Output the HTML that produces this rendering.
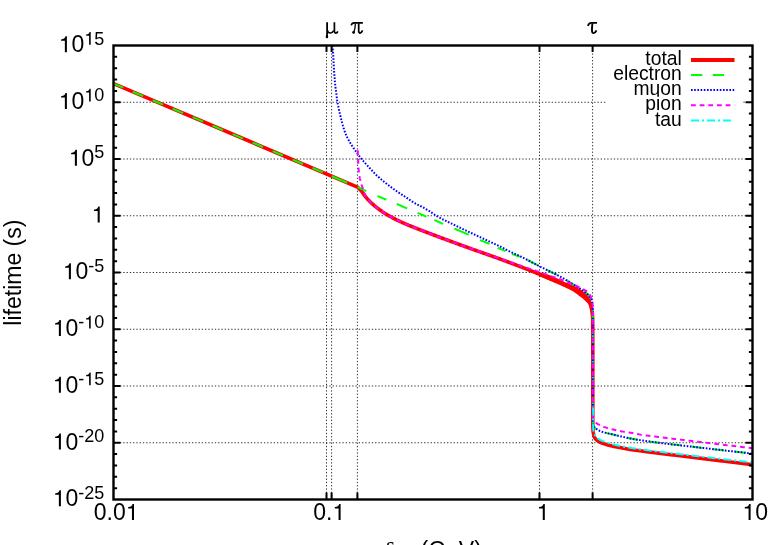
<!DOCTYPE html>
<html><head><meta charset="utf-8"><title>lifetime</title>
<style>html,body{margin:0;padding:0;background:#fff;}body{width:778px;height:545px;overflow:hidden;font-family:"Liberation Sans",sans-serif;}svg{display:block;will-change:transform;}</style></head>
<body>
<svg width="778" height="545" viewBox="0 0 778 545">
<rect width="778" height="545" fill="#fff"/>
<g stroke="#000" stroke-width="1" stroke-dasharray="1.3 1.97" fill="none" stroke-opacity="0.82">
<path d="M113.5 102.25 H607 M743.4 102.25 h1.3"/>
<path d="M113.5 159 H752.5"/>
<path d="M113.5 215.75 H752.5"/>
<path d="M113.5 272.5 H752.5"/>
<path d="M113.5 329.25 H752.5"/>
<path d="M113.5 386 H752.5"/>
<path d="M113.5 442.75 H752.5"/>
<path d="M326.5 499.5 V45.5"/>
<path d="M331.6 499.5 V45.5"/>
<path d="M357.4 499.5 V45.5"/>
<path d="M539.5 499.5 V45.5"/>
<path d="M592.6 499.5 V45.5"/>
</g>
<g fill="none" stroke-linejoin="round">
<path d="M113.5 83.6 L357.5 187.1 L358.3 187.83 L359.1 188.6 L359.9 189.4 L360.7 190.23 L361.51 191.15 L362.31 192.21 L363.11 193.37 L363.91 194.56 L364.71 195.7 L365.51 196.74 L366.31 197.69 L367.11 198.6 L367.91 199.48 L368.72 200.32 L369.52 201.14 L370.32 201.93 L371.12 202.7 L371.92 203.45 L372.72 204.18 L373.52 204.89 L374.32 205.59 L375.12 206.26 L375.93 206.92 L376.73 207.57 L377.53 208.19 L378.33 208.8 L379.13 209.4 L379.93 209.98 L380.73 210.55 L381.53 211.1 L382.33 211.65 L383.14 212.18 L383.94 212.7 L384.74 213.21 L385.54 213.72 L386.34 214.21 L387.14 214.69 L387.94 215.17 L388.74 215.64 L389.54 216.1 L390.35 216.55 L391.15 216.99 L391.95 217.43 L392.75 217.86 L393.55 218.29 L394.35 218.71 L395.15 219.12 L395.95 219.53 L396.76 219.93 L397.56 220.32 L398.36 220.71 L399.16 221.09 L399.96 221.46 L400.76 221.83 L401.56 222.19 L402.36 222.55 L403.16 222.91 L403.97 223.26 L404.77 223.61 L405.57 223.96 L406.37 224.3 L407.17 224.64 L407.97 224.98 L408.77 225.31 L409.57 225.64 L410.37 225.96 L411.18 226.28 L411.98 226.6 L412.78 226.92 L413.58 227.23 L414.38 227.55 L415.18 227.86 L415.98 228.18 L416.78 228.49 L417.58 228.81 L418.39 229.12 L419.19 229.44 L419.99 229.75 L420.79 230.06 L421.59 230.37 L422.39 230.68 L423.19 230.99 L423.99 231.29 L424.79 231.6 L425.6 231.91 L426.4 232.21 L427.2 232.52 L428 232.82 L428.8 233.13 L429.6 233.43 L430.4 233.73 L431.2 234.04 L432 234.34 L432.81 234.64 L433.61 234.94 L434.41 235.24 L435.21 235.54 L436.01 235.84 L436.81 236.14 L437.61 236.44 L438.41 236.74 L439.21 237.04 L440.02 237.34 L440.82 237.64 L441.62 237.94 L442.42 238.23 L443.22 238.53 L444.02 238.83 L444.82 239.12 L445.62 239.42 L446.42 239.72 L447.23 240.02 L448.03 240.31 L448.83 240.61 L449.63 240.9 L450.43 241.2 L451.23 241.49 L452.03 241.79 L452.83 242.09 L453.63 242.38 L454.44 242.68 L455.24 242.97 L456.04 243.26 L456.84 243.56 L457.64 243.85 L458.44 244.14 L459.24 244.44 L460.04 244.73 L460.84 245.02 L461.65 245.32 L462.45 245.61 L463.25 245.9 L464.05 246.19 L464.85 246.48 L465.65 246.77 L466.45 247.06 L467.25 247.35 L468.06 247.64 L468.86 247.93 L469.66 248.22 L470.46 248.51 L471.26 248.8 L472.06 249.09 L472.86 249.37 L473.66 249.66 L474.46 249.95 L475.27 250.23 L476.07 250.51 L476.87 250.8 L477.67 251.08 L478.47 251.36 L479.27 251.64 L480.07 251.92 L480.87 252.2 L481.67 252.49 L482.48 252.77 L483.28 253.05 L484.08 253.33 L484.88 253.61 L485.68 253.89 L486.48 254.17 L487.28 254.45 L488.08 254.73 L488.88 255.01 L489.69 255.3 L490.49 255.58 L491.29 255.86 L492.09 256.15 L492.89 256.43 L493.69 256.72 L494.49 257.01 L495.29 257.3 L496.09 257.59 L496.9 257.88 L497.7 258.17 L498.5 258.46 L499.3 258.75 L500.1 259.04 L500.9 259.34 L501.7 259.63 L502.5 259.92 L503.3 260.22 L504.11 260.51 L504.91 260.81 L505.71 261.11 L506.51 261.4 L507.31 261.7 L508.11 262 L508.91 262.3 L509.71 262.6 L510.51 262.9 L511.32 263.2 L512.12 263.5 L512.92 263.8 L513.72 264.1 L514.52 264.41 L515.32 264.71 L516.12 265.01 L516.92 265.32 L517.72 265.63 L518.53 265.93 L519.33 266.24 L520.13 266.55 L520.93 266.86 L521.73 267.17 L522.53 267.48 L523.33 267.79 L524.13 268.11 L524.93 268.42 L525.74 268.73 L526.54 269.05 L527.34 269.37 L528.14 269.68 L528.94 270 L529.74 270.32 L530.54 270.64 L531.34 270.96 L532.14 271.28 L532.95 271.6 L533.75 271.92 L534.55 272.25 L535.35 272.57 L536.15 272.89 L536.95 273.22 L537.75 273.55 L538.55 273.87 L539.36 274.2 L540.16 274.53 L540.96 274.86 L541.76 275.19 L542.56 275.52 L543.36 275.85 L544.16 276.18 L544.96 276.51 L545.76 276.84 L546.57 277.18 L547.37 277.51 L548.17 277.84 L548.97 278.18 L549.77 278.52 L550.57 278.85 L551.37 279.19 L552.17 279.53 L552.97 279.87 L553.78 280.21 L554.58 280.55 L555.38 280.9 L556.18 281.24 L556.98 281.58 L557.78 281.93 L558.58 282.27 L559.38 282.62 L560.18 282.97 L560.99 283.32 L561.79 283.67 L562.59 284.02 L563.39 284.38 L564.19 284.73 L564.99 285.09 L565.79 285.45 L566.59 285.81 L567.39 286.17 L568.2 286.54 L569 286.9 L569.8 287.27 L570.6 287.63 L571.4 288 L572.61 288.6 L573.8 289.2 L574.94 289.81 L576.04 290.41 L577.09 291.01 L578.09 291.61 L579.03 292.21 L579.94 292.82 L580.84 293.42 L581.71 294.02 L582.55 294.62 L583.35 295.22 L584.11 295.83 L584.82 296.43 L585.48 297.03 L586.08 297.63 L586.64 298.23 L587.18 298.84 L587.7 299.44 L588.19 300.04 L588.63 300.64 L589.03 301.24 L589.39 301.84 L589.68 302.45 L589.92 303.05 L590.15 303.65 L590.35 304.25 L590.54 304.85 L590.72 305.46 L590.88 306.06 L591.02 306.66 L591.16 307.26 L591.3 307.86 L591.42 308.47 L591.55 309.07 L591.67 309.67 L591.79 310.27 L591.9 310.87 L592.01 311.48 L592.11 312.08 L592.2 312.68 L592.27 313.28 L592.34 313.88 L592.4 314.49 L592.45 315.09 L592.49 315.69 L592.54 316.29 L592.58 316.89 L592.62 317.5 L592.65 318.1 L592.67 318.7 L592.69 319.3 L592.7 319.9 L592.7 320.51 L592.71 321.11 L592.71 321.71 L592.71 322.31 L592.72 322.91 L592.72 323.51 L592.72 324.12 L592.73 324.72 L592.73 325.32 L592.73 325.92 L592.74 326.52 L592.74 327.13 L592.74 327.73 L592.74 328.33 L592.75 328.93 L592.75 329.53 L592.75 330.14 L592.75 330.74 L592.76 331.34 L592.76 331.94 L592.76 332.54 L592.76 333.15 L592.76 333.75 L592.77 334.35 L592.77 334.95 L592.77 335.55 L592.77 336.16 L592.77 336.76 L592.77 337.36 L592.78 337.96 L592.78 338.56 L592.78 339.17 L592.78 339.77 L592.78 340.37 L592.78 340.97 L592.78 341.57 L592.79 342.18 L592.79 342.78 L592.79 343.38 L592.79 343.98 L592.79 344.58 L592.79 345.18 L592.79 345.79 L592.79 346.39 L592.79 346.99 L592.79 347.59 L592.79 348.19 L592.79 348.8 L592.8 349.4 L592.8 350 L592.8 350.6 L592.8 351.2 L592.8 351.81 L592.8 352.41 L592.8 353.01 L592.8 353.61 L592.8 354.21 L592.8 354.82 L592.8 355.42 L592.8 356.02 L592.8 356.62 L592.8 357.22 L592.8 357.83 L592.8 358.43 L592.8 359.03 L592.8 359.63 L592.8 360.23 L592.8 360.84 L592.8 361.44 L592.8 362.04 L592.8 362.64 L592.8 363.24 L592.8 363.85 L592.8 364.45 L592.8 365.05 L592.8 365.65 L592.8 366.25 L592.8 366.85 L592.8 367.46 L592.8 368.06 L592.8 368.66 L592.8 369.26 L592.8 369.86 L592.8 370.47 L592.8 371.07 L592.8 371.67 L592.8 372.27 L592.8 372.87 L592.8 373.48 L592.8 374.08 L592.8 374.68 L592.8 375.28 L592.8 375.88 L592.8 376.49 L592.8 377.09 L592.8 377.69 L592.8 378.29 L592.8 378.89 L592.8 379.5 L592.8 380.1 L592.8 380.7 L592.8 381.3 L592.8 381.9 L592.8 382.51 L592.8 383.11 L592.8 383.71 L592.8 384.31 L592.8 384.91 L592.8 385.52 L592.8 386.12 L592.8 386.72 L592.8 387.32 L592.8 387.92 L592.8 388.52 L592.8 389.13 L592.8 389.73 L592.8 390.33 L592.8 390.93 L592.8 391.53 L592.8 392.14 L592.8 392.74 L592.8 393.34 L592.8 393.94 L592.8 394.54 L592.8 395.15 L592.8 395.75 L592.8 396.35 L592.8 396.95 L592.8 397.55 L592.8 398.16 L592.8 398.76 L592.8 399.36 L592.8 399.96 L592.8 400.56 L592.8 401.17 L592.8 401.77 L592.8 402.37 L592.8 402.97 L592.8 403.57 L592.8 404.18 L592.8 404.78 L592.8 405.38 L592.8 405.98 L592.8 406.58 L592.8 407.19 L592.8 407.79 L592.8 408.39 L592.8 408.99 L592.8 409.59 L592.8 410.19 L592.8 410.8 L592.8 411.4 L592.8 412 L592.8 412.6 L592.8 413.2 L592.8 413.81 L592.8 414.41 L592.8 415.01 L592.8 415.61 L592.8 416.21 L592.8 416.82 L592.8 417.42 L592.8 418.02 L592.8 418.62 L592.8 419.22 L592.8 419.83 L592.8 420.43 L592.8 421.03 L592.8 421.63 L592.8 422.23 L592.8 422.84 L592.8 423.44 L592.8 424.04 L592.8 424.64 L592.81 425.24 L592.82 425.85 L592.84 426.45 L592.86 427.05 L592.88 427.65 L592.91 428.25 L592.94 428.86 L592.97 429.46 L593 430.06 L593.05 430.66 L593.11 431.26 L593.19 431.86 L593.28 432.47 L593.39 433.07 L593.5 433.67 L593.63 434.27 L593.76 434.87 L593.93 435.48 L594.12 436.08 L594.35 436.68 L594.62 437.28 L594.92 437.88 L595.27 438.49 L595.69 439.09 L596.3 439.69 L597.04 440.29 L597.85 440.89 L598.76 441.5 L599.82 442.1 L601 442.7 L602 443.06 L603.01 443.41 L604.01 443.75 L605.01 444.08 L606.02 444.4 L607.02 444.7 L608.02 444.99 L609.03 445.27 L610.03 445.54 L611.03 445.78 L612.04 446.02 L613.04 446.23 L614.04 446.44 L615.05 446.64 L616.05 446.83 L617.05 447.01 L618.06 447.19 L619.06 447.37 L620.06 447.55 L621.07 447.74 L622.07 447.93 L623.07 448.12 L624.08 448.32 L625.08 448.51 L626.08 448.71 L627.09 448.9 L628.09 449.09 L629.09 449.27 L630.1 449.44 L631.1 449.61 L632.1 449.76 L633.11 449.91 L634.11 450.05 L635.11 450.18 L636.12 450.31 L637.12 450.43 L638.12 450.56 L639.13 450.69 L640.13 450.82 L641.13 450.95 L642.14 451.08 L643.14 451.21 L644.14 451.34 L645.15 451.47 L646.15 451.61 L647.15 451.74 L648.16 451.86 L649.16 451.99 L650.16 452.12 L651.17 452.25 L652.17 452.37 L653.17 452.5 L654.18 452.63 L655.18 452.75 L656.18 452.88 L657.19 453 L658.19 453.13 L659.19 453.25 L660.2 453.37 L661.2 453.5 L662.2 453.62 L663.21 453.74 L664.21 453.87 L665.21 453.99 L666.22 454.11 L667.22 454.23 L668.22 454.35 L669.23 454.48 L670.23 454.6 L671.23 454.72 L672.24 454.84 L673.24 454.96 L674.24 455.08 L675.25 455.2 L676.25 455.32 L677.25 455.45 L678.25 455.57 L679.26 455.69 L680.26 455.81 L681.26 455.93 L682.27 456.05 L683.27 456.17 L684.27 456.29 L685.28 456.41 L686.28 456.53 L687.28 456.65 L688.29 456.78 L689.29 456.9 L690.29 457.02 L691.3 457.14 L692.3 457.26 L693.3 457.38 L694.31 457.5 L695.31 457.63 L696.31 457.75 L697.32 457.87 L698.32 457.99 L699.32 458.12 L700.33 458.24 L701.33 458.36 L702.33 458.49 L703.34 458.61 L704.34 458.73 L705.34 458.86 L706.35 458.98 L707.35 459.1 L708.35 459.23 L709.36 459.35 L710.36 459.48 L711.36 459.6 L712.37 459.72 L713.37 459.85 L714.37 459.97 L715.38 460.09 L716.38 460.22 L717.38 460.34 L718.39 460.47 L719.39 460.59 L720.39 460.71 L721.4 460.84 L722.4 460.96 L723.4 461.09 L724.41 461.21 L725.41 461.33 L726.41 461.46 L727.42 461.58 L728.42 461.71 L729.42 461.83 L730.43 461.96 L731.43 462.08 L732.43 462.2 L733.44 462.33 L734.44 462.45 L735.44 462.58 L736.45 462.7 L737.45 462.83 L738.45 462.95 L739.46 463.08 L740.46 463.2 L741.46 463.33 L742.47 463.45 L743.47 463.58 L744.47 463.7 L745.48 463.82 L746.48 463.95 L747.48 464.07 L748.49 464.2 L749.49 464.32 L750.49 464.45 L751.5 464.57 L752.5 464.7" stroke="#ff0000" stroke-width="3.6"/>
<path d="M540 272.5 L540.7 272.65 L541.4 272.81 L542.1 272.98 L542.8 273.15 L543.5 273.34 L544.2 273.53 L544.9 273.73 L545.6 273.94 L546.3 274.16 L547 274.38 L547.7 274.6 L548.4 274.84 L549.1 275.08 L549.8 275.32 L550.5 275.57 L551.2 275.82 L551.9 276.07 L552.6 276.35 L553.3 276.63 L554 276.94 L554.7 277.25 L555.4 277.58 L556.1 277.92 L556.8 278.25 L557.5 278.6 L558.2 278.94 L558.9 279.28 L559.6 279.61 L560.3 279.94 L561 280.28 L561.7 280.62 L562.4 280.96 L563.1 281.29 L563.8 281.61 L564.5 281.92 L565.2 282.21 L565.9 282.49 L566.6 282.77 L567.3 283.04 L568 283.31 L568.7 283.58 L569.4 283.86 L570.1 284.14 L570.8 284.44 L571.5 284.75 L572.2 285.06 L572.9 285.39 L573.6 285.72 L574.3 286.05 L575 286.4 L575.7 286.75 L576.4 287.12 L577.1 287.49 L577.8 287.88 L578.5 288.28 L579.2 288.69 L579.9 289.11 L580.6 289.53 L581.3 289.97 L582 290.42 L582.7 290.89 L583.4 291.38 L584.1 291.91 L584.8 292.46 L585.5 293.06 L586.2 293.69 L586.9 294.36 L587.6 295.09 L588.3 295.93 L589 296.92 L589.7 298.1 L590.4 299.61 L591.1 301.77 L591.8 305.13 L592.5 312 L591 314 L590.29 309.95 L589.58 306.6 L588.88 305.09 L588.17 303.97 L587.46 303.11 L586.75 302.37 L586.04 301.64 L585.33 300.89 L584.62 300.2 L583.92 299.56 L583.21 298.95 L582.5 298.37 L581.79 297.82 L581.08 297.28 L580.38 296.75 L579.67 296.23 L578.96 295.7 L578.25 295.16 L577.54 294.62 L576.83 294.09 L576.12 293.56 L575.42 293.04 L574.71 292.54 L574 292.04 L573.29 291.57 L572.58 291.11 L571.88 290.68 L571.17 290.27 L570.46 289.88 L569.75 289.51 L569.04 289.15 L568.33 288.81 L567.62 288.48 L566.92 288.15 L566.21 287.83 L565.5 287.5 L564.79 287.17 L564.08 286.84 L563.38 286.5 L562.67 286.16 L561.96 285.81 L561.25 285.48 L560.54 285.15 L559.83 284.83 L559.12 284.51 L558.42 284.2 L557.71 283.9 L557 283.6 L556.29 283.31 L555.58 283.01 L554.88 282.72 L554.17 282.43 L553.46 282.14 L552.75 281.84 L552.04 281.54 L551.33 281.24 L550.62 280.94 L549.92 280.64 L549.21 280.34 L548.5 280.04 L547.79 279.74 L547.08 279.44 L546.38 279.13 L545.67 278.83 L544.96 278.53 L544.25 278.22 L543.54 277.92 L542.83 277.62 L542.12 277.31 L541.42 277.01 L540.71 276.7 L540 276.4 Z" fill="#ff0000" stroke="none"/>
<path d="M113.5 83.6 L330 175.45" stroke="#00ff00" stroke-width="2" stroke-dasharray="11.3 10.4" stroke-dashoffset="0.8"/>
<path d="M331.8 176.25 L347.2 182.75" stroke="#00ff00" stroke-width="2"/>
<path d="M357.5 187.1 L358.3 187.47 L359.1 187.84 L359.9 188.21 L360.7 188.58 L361.5 188.95 L362.3 189.31 L363.1 189.68 L363.9 190.04 L364.7 190.4 L365.5 190.76 L366.31 191.11" stroke="#00ff00" stroke-width="2"/>
<path d="M377.51 195.96 L378.31 196.3 L379.11 196.63 L379.91 196.97 L380.71 197.3 L381.51 197.64 L382.32 197.97 L383.12 198.3 L383.92 198.63 L384.72 198.96 L385.52 199.29 L386.32 199.62" stroke="#00ff00" stroke-width="2"/>
<path d="M396.72 203.9 L397.52 204.24 L398.33 204.59 L399.13 204.94 L399.93 205.29 L400.73 205.65 L401.53 206.01 L402.33 206.37 L403.13 206.73 L403.93 207.09 L404.73 207.44 L405.53 207.8 L406.33 208.15 L407.13 208.5" stroke="#00ff00" stroke-width="2"/>
<path d="M417.54 212.86 L418.34 213.2 L419.14 213.55 L419.94 213.89 L420.74 214.24 L421.54 214.59 L422.34 214.94 L423.14 215.29 L423.94 215.64 L424.74 215.99 L425.54 216.33 L426.34 216.68" stroke="#00ff00" stroke-width="2"/>
<path d="M434.35 220.01 L435.15 220.35 L435.95 220.7 L436.75 221.06 L437.55 221.42 L438.35 221.78 L439.15 222.14 L439.95 222.5 L440.75 222.86 L441.55 223.21 L442.35 223.57 L443.15 223.92" stroke="#00ff00" stroke-width="2"/>
<path d="M454.36 228.61 L455.16 228.95 L455.96 229.28 L456.76 229.62 L457.56 229.96 L458.36 230.29 L459.16 230.63 L459.96 230.97 L460.76 231.3 L461.56 231.64 L462.36 231.98 L463.17 232.32 L463.97 232.67 L464.77 233.01 L465.57 233.36 L466.37 233.71 L467.17 234.06 L467.97 234.41 L468.77 234.77" stroke="#00ff00" stroke-width="2"/>
<path d="M479.98 240.05 L480.78 240.39 L481.58 240.71 L482.38 241.03 L483.18 241.35 L483.98 241.66 L484.78 241.97 L485.58 242.28 L486.38 242.59 L487.18 242.91 L487.98 243.23 L488.78 243.57 L489.58 243.91" stroke="#00ff00" stroke-width="2"/>
<path d="M497.59 247.82 L498.39 248.16 L499.19 248.49 L499.99 248.82 L500.79 249.13 L501.59 249.45 L502.39 249.76 L503.19 250.08 L503.99 250.4 L504.79 250.73 L505.59 251.07" stroke="#00ff00" stroke-width="2"/>
<path d="M512 253.97 L512.8 254.28 L513.6 254.57 L514.4 254.87 L515.2 255.15 L516 255.42 L516.8 255.68 L517.6 255.93 L518.4 256.17 L519.2 256.39 L520 256.6" stroke="#00ff00" stroke-width="2"/>
<path d="M520.64 256.51 L521.45 256.91 L522.25 257.3 L523.05 257.7 L523.85 258.11 L524.66 258.52 L525.46 258.93 L526.26 259.34 L527.06 259.75 L527.86 260.17 L528.67 260.59 L529.47 261.01 L530.27 261.43 L531.07 261.85 L531.87 262.27 L532.68 262.7 L533.48 263.12 L534.28 263.54 L535.08 263.96 L535.88 264.38 L536.69 264.8 L537.49 265.21 L538.29 265.63 L539.09 266.04 L539.9 266.45 L540.7 266.86 L541.5 267.26 L542.3 267.66 L543.1 268.06 L543.91 268.46 L544.71 268.85 L545.51 269.24 L546.31 269.64 L547.11 270.03 L547.92 270.42 L548.72 270.81 L549.52 271.21 L550.32 271.6 L551.12 272 L551.93 272.39 L552.73 272.79 L553.53 273.19 L554.33 273.59 L555.13 274 L555.94 274.41 L556.74 274.82 L557.54 275.24 L558.34 275.66 L559.15 276.08 L559.95 276.51 L560.75 276.94 L561.55 277.38 L562.35 277.83 L563.16 278.28 L563.96 278.74 L564.76 279.21 L565.56 279.68 L566.36 280.15 L567.17 280.63 L567.97 281.12 L568.77 281.6 L569.57 282.09 L570.37 282.58 L571.18 283.08 L571.98 283.57 L572.78 284.06 L573.58 284.56 L574.39 285.05 L575.19 285.55 L575.99 286.05 L576.79 286.55 L577.59 287.06 L578.4 287.57 L579.2 288.09 L580 288.6 L580.94 289.2 L581.85 289.8 L582.73 290.4 L583.59 291 L584.44 291.6 L585.27 292.21 L586.07 292.81 L586.79 293.41 L587.43 294.01 L588.03 294.61 L588.59 295.21 L589.1 295.81 L589.57 296.41 L589.98 297.01 L590.39 297.61 L590.76 298.21 L591.1 298.81 L591.38 299.42 L591.6 300.02 L591.79 300.62 L591.95 301.22 L592.1 301.82 L592.24 302.42 L592.35 303.02 L592.43 303.62 L592.49 304.22 L592.54 304.82 L592.57 305.42 L592.61 306.02 L592.65 306.63 L592.68 307.23 L592.7 307.83 L592.73 308.43 L592.75 309.03 L592.77 309.63 L592.78 310.23 L592.79 310.83 L592.8 311.43 L592.8 312.03 L592.8 312.63 L592.8 313.23 L592.8 313.84 L592.8 314.44 L592.8 315.04 L592.8 315.64 L592.8 316.24 L592.8 316.84 L592.8 317.44 L592.8 318.04 L592.8 318.64 L592.8 319.24 L592.8 319.84 L592.8 320.44 L592.8 321.05 L592.8 321.65 L592.8 322.25 L592.8 322.85 L592.8 323.45 L592.8 324.05 L592.8 324.65 L592.8 325.25 L592.8 325.85 L592.8 326.45 L592.8 327.05 L592.8 327.65 L592.8 328.26 L592.8 328.86 L592.8 329.46 L592.8 330.06 L592.8 330.66 L592.8 331.26 L592.8 331.86 L592.8 332.46 L592.8 333.06 L592.8 333.66 L592.8 334.26 L592.8 334.86 L592.8 335.47 L592.8 336.07 L592.8 336.67 L592.8 337.27 L592.8 337.87 L592.8 338.47 L592.8 339.07 L592.8 339.67 L592.8 340.27 L592.8 340.87 L592.8 341.47 L592.8 342.08 L592.8 342.68 L592.8 343.28 L592.8 343.88 L592.8 344.48 L592.8 345.08 L592.8 345.68 L592.8 346.28 L592.8 346.88 L592.8 347.48 L592.8 348.08 L592.8 348.68 L592.8 349.29 L592.8 349.89 L592.8 350.49 L592.8 351.09 L592.8 351.69 L592.8 352.29 L592.8 352.89 L592.8 353.49 L592.8 354.09 L592.8 354.69 L592.8 355.29 L592.8 355.89 L592.8 356.5 L592.8 357.1 L592.8 357.7 L592.8 358.3 L592.8 358.9 L592.8 359.5 L592.8 360.1 L592.8 360.7 L592.8 361.3 L592.8 361.9 L592.8 362.5 L592.8 363.1 L592.8 363.71 L592.8 364.31 L592.8 364.91 L592.8 365.51 L592.8 366.11 L592.8 366.71 L592.8 367.31 L592.8 367.91 L592.8 368.51 L592.8 369.11 L592.8 369.71 L592.8 370.31 L592.8 370.92 L592.8 371.52 L592.8 372.12 L592.8 372.72 L592.8 373.32 L592.8 373.92 L592.8 374.52 L592.8 375.12 L592.8 375.72 L592.8 376.32 L592.8 376.92 L592.8 377.52 L592.8 378.13 L592.8 378.73 L592.8 379.33 L592.8 379.93 L592.8 380.53 L592.8 381.13 L592.8 381.73 L592.8 382.33 L592.8 382.93 L592.8 383.53 L592.8 384.13 L592.8 384.74 L592.8 385.34 L592.8 385.94 L592.8 386.54 L592.8 387.14 L592.8 387.74 L592.8 388.34 L592.8 388.94 L592.8 389.54 L592.8 390.14 L592.8 390.74 L592.8 391.34 L592.8 391.95 L592.8 392.55 L592.8 393.15 L592.8 393.75 L592.8 394.35 L592.8 394.95 L592.8 395.55 L592.8 396.15 L592.8 396.75 L592.8 397.35 L592.8 397.95 L592.8 398.55 L592.8 399.16 L592.8 399.76 L592.8 400.36 L592.8 400.96 L592.8 401.56 L592.8 402.16 L592.8 402.76 L592.8 403.36 L592.8 403.96 L592.8 404.56 L592.8 405.16 L592.8 405.76 L592.8 406.37 L592.8 406.97 L592.8 407.57 L592.8 408.17 L592.8 408.77 L592.8 409.37 L592.8 409.97 L592.8 410.57 L592.8 411.17 L592.8 411.77 L592.8 412.37 L592.8 412.97 L592.8 413.58 L592.8 414.18 L592.8 414.78 L592.8 415.38 L592.8 415.98 L592.8 416.58 L592.8 417.18 L592.8 417.78 L592.8 418.38 L592.8 418.98 L592.8 419.58 L592.8 420.18 L592.8 420.79 L592.82 421.39 L592.86 421.99 L592.91 422.59 L592.97 423.19 L593.04 423.79 L593.13 424.39 L593.3 424.99 L593.54 425.59 L593.83 426.19 L594.18 426.79 L594.65 427.39 L595.25 428 L595.93 428.6 L596.7 429.2 L597.62 429.8 L598.74 430.4 L600 431 L601 431.36 L602.01 431.71 L603.01 432.03 L604.01 432.32 L605.02 432.6 L606.02 432.87 L607.02 433.12 L608.03 433.37 L609.03 433.61 L610.03 433.85 L611.04 434.08 L612.04 434.32 L613.04 434.56 L614.05 434.8 L615.05 435.05 L616.05 435.29 L617.06 435.53 L618.06 435.76 L619.06 436 L620.07 436.23 L621.07 436.46 L622.07 436.69 L623.08 436.91 L624.08 437.13 L625.08 437.34 L626.09 437.56 L627.09 437.77 L628.09 437.98 L629.1 438.19 L630.1 438.4 L631.1 438.59 L632.11 438.79 L633.11 438.97 L634.11 439.16 L635.12 439.33 L636.12 439.49 L637.12 439.65 L638.12 439.81 L639.13 439.96 L640.13 440.12 L641.13 440.28 L642.14 440.43 L643.14 440.59 L644.14 440.74 L645.15 440.9 L646.15 441.05 L647.15 441.2 L648.16 441.34 L649.16 441.48 L650.16 441.62 L651.17 441.76 L652.17 441.89 L653.17 442.03 L654.18 442.16 L655.18 442.29 L656.18 442.42 L657.19 442.55 L658.19 442.68 L659.19 442.81 L660.2 442.94 L661.2 443.06 L662.2 443.19 L663.21 443.31 L664.21 443.44 L665.21 443.56 L666.22 443.68 L667.22 443.8 L668.22 443.92 L669.23 444.04 L670.23 444.16 L671.23 444.28 L672.24 444.4 L673.24 444.52 L674.24 444.63 L675.25 444.75 L676.25 444.87 L677.25 444.98 L678.26 445.1 L679.26 445.22 L680.26 445.33 L681.27 445.45 L682.27 445.56 L683.27 445.68 L684.28 445.79 L685.28 445.91 L686.28 446.02 L687.29 446.14 L688.29 446.25 L689.29 446.36 L690.3 446.48 L691.3 446.59 L692.3 446.71 L693.31 446.82 L694.31 446.94 L695.31 447.06 L696.32 447.17 L697.32 447.29 L698.32 447.4 L699.33 447.52 L700.33 447.64 L701.33 447.76 L702.34 447.87 L703.34 447.99 L704.34 448.11 L705.35 448.22 L706.35 448.34 L707.35 448.46 L708.36 448.57 L709.36 448.69 L710.36 448.81 L711.37 448.92 L712.37 449.04 L713.37 449.16 L714.38 449.27 L715.38 449.39 L716.38 449.5 L717.38 449.62 L718.39 449.74 L719.39 449.85 L720.39 449.97 L721.4 450.08 L722.4 450.2 L723.4 450.31 L724.41 450.43 L725.41 450.54 L726.41 450.66 L727.42 450.77 L728.42 450.89 L729.42 451 L730.43 451.11 L731.43 451.23 L732.43 451.34 L733.44 451.46 L734.44 451.57 L735.44 451.68 L736.45 451.8 L737.45 451.91 L738.45 452.02 L739.46 452.14 L740.46 452.25 L741.46 452.36 L742.47 452.48 L743.47 452.59 L744.47 452.7 L745.48 452.82 L746.48 452.93 L747.48 453.04 L748.49 453.15 L749.49 453.26 L750.49 453.38 L751.5 453.49 L752.5 453.6" stroke="#00ff00" stroke-width="2" stroke-dasharray="11.3 10.4" stroke-dashoffset="14"/>
<path d="M332.4 45.5 L332.5 46.3 L332.59 47.11 L332.68 47.91 L332.76 48.71 L332.83 49.52 L332.89 50.32 L332.95 51.12 L333.01 51.93 L333.06 52.73 L333.11 53.53 L333.16 54.34 L333.21 55.14 L333.26 55.94 L333.3 56.75 L333.35 57.55 L333.39 58.35 L333.44 59.16 L333.48 59.96 L333.52 60.76 L333.56 61.57 L333.59 62.37 L333.63 63.17 L333.67 63.98 L333.7 64.78 L333.74 65.58 L333.78 66.39 L333.82 67.19 L333.87 67.99 L333.92 68.8 L333.97 69.6 L334.03 70.4 L334.09 71.2 L334.15 72.01 L334.22 72.81 L334.28 73.61 L334.35 74.42 L334.41 75.22 L334.47 76.02 L334.53 76.83 L334.59 77.63 L334.65 78.43 L334.71 79.24 L334.77 80.04 L334.83 80.84 L334.89 81.65 L334.96 82.45 L335.03 83.25 L335.11 84.06 L335.19 84.86 L335.27 85.66 L335.37 86.47 L335.48 87.27 L335.59 88.07 L335.71 88.88 L335.83 89.68 L335.95 90.48 L336.06 91.29 L336.16 92.09 L336.26 92.89 L336.36 93.7 L336.45 94.5 L336.55 95.3 L336.64 96.11 L336.73 96.91 L336.83 97.71 L336.93 98.52 L337.04 99.32 L337.16 100.12 L337.28 100.93 L337.41 101.73 L337.55 102.53 L337.69 103.34 L337.83 104.14 L337.99 104.94 L338.14 105.75 L338.3 106.55 L338.47 107.35 L338.64 108.16 L338.81 108.96 L338.98 109.76 L339.16 110.57 L339.34 111.37 L339.53 112.17 L339.72 112.98 L339.9 113.78 L340.09 114.58 L340.29 115.39 L340.48 116.19 L340.67 116.99 L340.87 117.8 L341.06 118.6 L341.26 119.4 L341.46 120.2 L341.66 121.01 L341.86 121.81 L342.07 122.61 L342.28 123.42 L342.5 124.22 L342.72 125.02 L342.94 125.83 L343.18 126.63 L343.41 127.43 L343.66 128.24 L343.91 129.04 L344.17 129.84 L344.44 130.65 L344.72 131.45 L345.01 132.25 L345.31 133.06 L345.63 133.86 L345.97 134.66 L346.32 135.47 L346.7 136.27 L347.08 137.07 L347.48 137.88 L347.9 138.68 L348.33 139.48 L348.76 140.29 L349.21 141.09 L349.67 141.89 L350.13 142.7 L350.6 143.5 L351.4 144.76 L352.2 146 L353.01 147.22 L353.81 148.41 L354.61 149.59 L355.41 150.75 L356.21 151.89 L357.02 153.01 L357.82 154.11 L358.62 155.19 L359.42 156.25 L360.23 157.29 L361.03 158.3 L361.83 159.28 L362.63 160.22 L363.43 161.14 L364.24 162.03 L365.04 162.92 L365.84 163.81 L366.64 164.7 L367.44 165.59 L368.25 166.48 L369.05 167.36 L369.85 168.24 L370.65 169.12 L371.45 169.99 L372.26 170.85 L373.06 171.69 L373.86 172.53 L374.66 173.34 L375.47 174.15 L376.27 174.93 L377.07 175.69 L377.87 176.43 L378.67 177.16 L379.48 177.87 L380.28 178.58 L381.08 179.27 L381.88 179.94 L382.68 180.61 L383.49 181.27 L384.29 181.92 L385.09 182.56 L385.89 183.2 L386.69 183.83 L387.5 184.45 L388.3 185.07 L389.1 185.69 L389.9 186.3 L390.7 186.91 L391.51 187.51 L392.31 188.11 L393.11 188.7 L393.91 189.28 L394.72 189.86 L395.52 190.43 L396.32 191 L397.12 191.55 L397.92 192.1 L398.73 192.65 L399.53 193.19 L400.33 193.72 L401.13 194.23 L401.93 194.72 L402.74 195.22 L403.54 195.72 L404.34 196.24 L405.14 196.77 L405.94 197.31 L406.75 197.85 L407.55 198.4 L408.35 198.95 L409.15 199.5 L409.96 200.05 L410.76 200.59 L411.56 201.13 L412.36 201.66 L413.16 202.17 L413.97 202.67 L414.77 203.16 L415.57 203.63 L416.37 204.07 L417.17 204.49 L417.98 204.87 L418.78 205.23 L419.58 205.59 L420.38 205.99 L421.18 206.41 L421.99 206.83 L422.79 207.26 L423.59 207.7 L424.39 208.15 L425.2 208.61 L426 209.07 L426.8 209.55 L427.6 210.02 L428.4 210.51 L429.21 211 L430.01 211.5 L430.81 212.03 L431.61 212.59 L432.41 213.16 L433.22 213.74 L434.02 214.3 L434.82 214.84 L435.62 215.33 L436.42 215.81 L437.23 216.28 L438.03 216.74 L438.83 217.19 L439.63 217.63 L440.43 218.07 L441.24 218.5 L442.04 218.92 L442.84 219.34 L443.64 219.75 L444.45 220.16 L445.25 220.56 L446.05 220.96 L446.85 221.35 L447.65 221.75 L448.46 222.14 L449.26 222.52 L450.06 222.91 L450.86 223.29 L451.66 223.67 L452.47 224.06 L453.27 224.44 L454.07 224.82 L454.87 225.2 L455.67 225.59 L456.48 225.97 L457.28 226.36 L458.08 226.75 L458.88 227.14 L459.69 227.53 L460.49 227.92 L461.29 228.31 L462.09 228.69 L462.89 229.08 L463.7 229.46 L464.5 229.84 L465.3 230.22 L466.1 230.6 L466.9 230.98 L467.71 231.36 L468.51 231.73 L469.31 232.11 L470.11 232.49 L470.91 232.86 L471.72 233.23 L472.52 233.61 L473.32 233.98 L474.12 234.36 L474.93 234.73 L475.73 235.1 L476.53 235.48 L477.33 235.85 L478.13 236.23 L478.94 236.6 L479.74 236.98 L480.54 237.35 L481.34 237.73 L482.14 238.11 L482.95 238.49 L483.75 238.86 L484.55 239.23 L485.35 239.61 L486.15 239.98 L486.96 240.35 L487.76 240.72 L488.56 241.09 L489.36 241.46 L490.17 241.83 L490.97 242.2 L491.77 242.58 L492.57 242.95 L493.37 243.32 L494.18 243.7 L494.98 244.07 L495.78 244.45 L496.58 244.83 L497.38 245.21 L498.19 245.59 L498.99 245.98 L499.79 246.37 L500.59 246.76 L501.39 247.15 L502.2 247.55 L503 247.95 L503.8 248.37 L504.6 248.79 L505.4 249.21 L506.21 249.64 L507.01 250.06 L507.81 250.49 L508.61 250.9 L509.42 251.31 L510.22 251.71 L511.02 252.09 L511.82 252.47 L512.62 252.84 L513.43 253.2 L514.23 253.56 L515.03 253.92 L515.83 254.28 L516.63 254.64 L517.44 255 L518.24 255.37 L519.04 255.74 L519.84 256.12 L520.64 256.51 L521.45 256.91 L522.25 257.3 L523.05 257.7 L523.85 258.11 L524.66 258.52 L525.46 258.93 L526.26 259.34 L527.06 259.75 L527.86 260.17 L528.67 260.59 L529.47 261.01 L530.27 261.43 L531.07 261.85 L531.87 262.27 L532.68 262.7 L533.48 263.12 L534.28 263.54 L535.08 263.96 L535.88 264.38 L536.69 264.8 L537.49 265.21 L538.29 265.63 L539.09 266.04 L539.9 266.45 L540.7 266.86 L541.5 267.26 L542.3 267.66 L543.1 268.06 L543.91 268.46 L544.71 268.85 L545.51 269.24 L546.31 269.64 L547.11 270.03 L547.92 270.42 L548.72 270.81 L549.52 271.21 L550.32 271.6 L551.12 272 L551.93 272.39 L552.73 272.79 L553.53 273.19 L554.33 273.59 L555.13 274 L555.94 274.41 L556.74 274.82 L557.54 275.24 L558.34 275.66 L559.15 276.08 L559.95 276.51 L560.75 276.94 L561.55 277.38 L562.35 277.83 L563.16 278.28 L563.96 278.74 L564.76 279.21 L565.56 279.68 L566.36 280.15 L567.17 280.63 L567.97 281.12 L568.77 281.6 L569.57 282.09 L570.37 282.58 L571.18 283.08 L571.98 283.57 L572.78 284.06 L573.58 284.56 L574.39 285.05 L575.19 285.55 L575.99 286.05 L576.79 286.55 L577.59 287.06 L578.4 287.57 L579.2 288.09 L580 288.6 L580.94 289.2 L581.85 289.8 L582.73 290.4 L583.59 291 L584.44 291.6 L585.27 292.21 L586.07 292.81 L586.79 293.41 L587.43 294.01 L588.03 294.61 L588.59 295.21 L589.1 295.81 L589.57 296.41 L589.98 297.01 L590.39 297.61 L590.76 298.21 L591.1 298.81 L591.38 299.42 L591.6 300.02 L591.79 300.62 L591.95 301.22 L592.1 301.82 L592.24 302.42 L592.35 303.02 L592.43 303.62 L592.49 304.22 L592.54 304.82 L592.57 305.42 L592.61 306.02 L592.65 306.63 L592.68 307.23 L592.7 307.83 L592.73 308.43 L592.75 309.03 L592.77 309.63 L592.78 310.23 L592.79 310.83 L592.8 311.43 L592.8 312.03 L592.8 312.63 L592.8 313.23 L592.8 313.84 L592.8 314.44 L592.8 315.04 L592.8 315.64 L592.8 316.24 L592.8 316.84 L592.8 317.44 L592.8 318.04 L592.8 318.64 L592.8 319.24 L592.8 319.84 L592.8 320.44 L592.8 321.05 L592.8 321.65 L592.8 322.25 L592.8 322.85 L592.8 323.45 L592.8 324.05 L592.8 324.65 L592.8 325.25 L592.8 325.85 L592.8 326.45 L592.8 327.05 L592.8 327.65 L592.8 328.26 L592.8 328.86 L592.8 329.46 L592.8 330.06 L592.8 330.66 L592.8 331.26 L592.8 331.86 L592.8 332.46 L592.8 333.06 L592.8 333.66 L592.8 334.26 L592.8 334.86 L592.8 335.47 L592.8 336.07 L592.8 336.67 L592.8 337.27 L592.8 337.87 L592.8 338.47 L592.8 339.07 L592.8 339.67 L592.8 340.27 L592.8 340.87 L592.8 341.47 L592.8 342.08 L592.8 342.68 L592.8 343.28 L592.8 343.88 L592.8 344.48 L592.8 345.08 L592.8 345.68 L592.8 346.28 L592.8 346.88 L592.8 347.48 L592.8 348.08 L592.8 348.68 L592.8 349.29 L592.8 349.89 L592.8 350.49 L592.8 351.09 L592.8 351.69 L592.8 352.29 L592.8 352.89 L592.8 353.49 L592.8 354.09 L592.8 354.69 L592.8 355.29 L592.8 355.89 L592.8 356.5 L592.8 357.1 L592.8 357.7 L592.8 358.3 L592.8 358.9 L592.8 359.5 L592.8 360.1 L592.8 360.7 L592.8 361.3 L592.8 361.9 L592.8 362.5 L592.8 363.1 L592.8 363.71 L592.8 364.31 L592.8 364.91 L592.8 365.51 L592.8 366.11 L592.8 366.71 L592.8 367.31 L592.8 367.91 L592.8 368.51 L592.8 369.11 L592.8 369.71 L592.8 370.31 L592.8 370.92 L592.8 371.52 L592.8 372.12 L592.8 372.72 L592.8 373.32 L592.8 373.92 L592.8 374.52 L592.8 375.12 L592.8 375.72 L592.8 376.32 L592.8 376.92 L592.8 377.52 L592.8 378.13 L592.8 378.73 L592.8 379.33 L592.8 379.93 L592.8 380.53 L592.8 381.13 L592.8 381.73 L592.8 382.33 L592.8 382.93 L592.8 383.53 L592.8 384.13 L592.8 384.74 L592.8 385.34 L592.8 385.94 L592.8 386.54 L592.8 387.14 L592.8 387.74 L592.8 388.34 L592.8 388.94 L592.8 389.54 L592.8 390.14 L592.8 390.74 L592.8 391.34 L592.8 391.95 L592.8 392.55 L592.8 393.15 L592.8 393.75 L592.8 394.35 L592.8 394.95 L592.8 395.55 L592.8 396.15 L592.8 396.75 L592.8 397.35 L592.8 397.95 L592.8 398.55 L592.8 399.16 L592.8 399.76 L592.8 400.36 L592.8 400.96 L592.8 401.56 L592.8 402.16 L592.8 402.76 L592.8 403.36 L592.8 403.96 L592.8 404.56 L592.8 405.16 L592.8 405.76 L592.8 406.37 L592.8 406.97 L592.8 407.57 L592.8 408.17 L592.8 408.77 L592.8 409.37 L592.8 409.97 L592.8 410.57 L592.8 411.17 L592.8 411.77 L592.8 412.37 L592.8 412.97 L592.8 413.58 L592.8 414.18 L592.8 414.78 L592.8 415.38 L592.8 415.98 L592.8 416.58 L592.8 417.18 L592.8 417.78 L592.8 418.38 L592.8 418.98 L592.8 419.58 L592.8 420.18 L592.8 420.79 L592.82 421.39 L592.86 421.99 L592.91 422.59 L592.97 423.19 L593.04 423.79 L593.13 424.39 L593.3 424.99 L593.54 425.59 L593.83 426.19 L594.18 426.79 L594.65 427.39 L595.25 428 L595.93 428.6 L596.7 429.2 L597.62 429.8 L598.74 430.4 L600 431 L601 431.36 L602.01 431.71 L603.01 432.03 L604.01 432.32 L605.02 432.6 L606.02 432.87 L607.02 433.12 L608.03 433.37 L609.03 433.61 L610.03 433.85 L611.04 434.08 L612.04 434.32 L613.04 434.56 L614.05 434.8 L615.05 435.05 L616.05 435.29 L617.06 435.53 L618.06 435.76 L619.06 436 L620.07 436.23 L621.07 436.46 L622.07 436.69 L623.08 436.91 L624.08 437.13 L625.08 437.34 L626.09 437.56 L627.09 437.77 L628.09 437.98 L629.1 438.19 L630.1 438.4 L631.1 438.59 L632.11 438.79 L633.11 438.97 L634.11 439.16 L635.12 439.33 L636.12 439.49 L637.12 439.65 L638.12 439.81 L639.13 439.96 L640.13 440.12 L641.13 440.28 L642.14 440.43 L643.14 440.59 L644.14 440.74 L645.15 440.9 L646.15 441.05 L647.15 441.2 L648.16 441.34 L649.16 441.48 L650.16 441.62 L651.17 441.76 L652.17 441.89 L653.17 442.03 L654.18 442.16 L655.18 442.29 L656.18 442.42 L657.19 442.55 L658.19 442.68 L659.19 442.81 L660.2 442.94 L661.2 443.06 L662.2 443.19 L663.21 443.31 L664.21 443.44 L665.21 443.56 L666.22 443.68 L667.22 443.8 L668.22 443.92 L669.23 444.04 L670.23 444.16 L671.23 444.28 L672.24 444.4 L673.24 444.52 L674.24 444.63 L675.25 444.75 L676.25 444.87 L677.25 444.98 L678.26 445.1 L679.26 445.22 L680.26 445.33 L681.27 445.45 L682.27 445.56 L683.27 445.68 L684.28 445.79 L685.28 445.91 L686.28 446.02 L687.29 446.14 L688.29 446.25 L689.29 446.36 L690.3 446.48 L691.3 446.59 L692.3 446.71 L693.31 446.82 L694.31 446.94 L695.31 447.06 L696.32 447.17 L697.32 447.29 L698.32 447.4 L699.33 447.52 L700.33 447.64 L701.33 447.76 L702.34 447.87 L703.34 447.99 L704.34 448.11 L705.35 448.22 L706.35 448.34 L707.35 448.46 L708.36 448.57 L709.36 448.69 L710.36 448.81 L711.37 448.92 L712.37 449.04 L713.37 449.16 L714.38 449.27 L715.38 449.39 L716.38 449.5 L717.38 449.62 L718.39 449.74 L719.39 449.85 L720.39 449.97 L721.4 450.08 L722.4 450.2 L723.4 450.31 L724.41 450.43 L725.41 450.54 L726.41 450.66 L727.42 450.77 L728.42 450.89 L729.42 451 L730.43 451.11 L731.43 451.23 L732.43 451.34 L733.44 451.46 L734.44 451.57 L735.44 451.68 L736.45 451.8 L737.45 451.91 L738.45 452.02 L739.46 452.14 L740.46 452.25 L741.46 452.36 L742.47 452.48 L743.47 452.59 L744.47 452.7 L745.48 452.82 L746.48 452.93 L747.48 453.04 L748.49 453.15 L749.49 453.26 L750.49 453.38 L751.5 453.49 L752.5 453.6" stroke="#0000ff" stroke-width="2" stroke-dasharray="1.6 1.6"/>
<path d="M357.8 150.3 L357.81 150.9 L357.82 151.51 L357.84 152.11 L357.85 152.71 L357.87 153.31 L357.88 153.92 L357.9 154.52 L357.92 155.12 L357.94 155.72 L357.96 156.33 L357.98 156.93 L358 157.53 L358.03 158.13 L358.05 158.74 L358.07 159.34 L358.1 159.94 L358.12 160.55 L358.15 161.15 L358.17 161.75 L358.2 162.35 L358.23 162.96 L358.26 163.56 L358.3 164.16 L358.33 164.76 L358.36 165.37 L358.4 165.97 L358.44 166.57 L358.48 167.17 L358.52 167.78 L358.57 168.38 L358.61 168.98 L358.66 169.59 L358.72 170.19 L358.78 170.79 L358.84 171.39 L358.9 172 L358.97 172.6 L359.05 173.2 L359.13 173.8 L359.21 174.41 L359.29 175.01 L359.38 175.61 L359.47 176.21 L359.57 176.82 L359.67 177.42 L359.79 178.02 L359.91 178.63 L360.05 179.23 L360.19 179.83 L360.35 180.43 L360.5 181.04 L360.67 181.64 L360.83 182.24 L361 182.84 L361.17 183.45 L361.35 184.05 L361.53 184.65 L361.72 185.25 L361.92 185.86 L362.12 186.46 L362.33 187.06 L362.54 187.67 L362.75 188.27 L362.96 188.87 L363.16 189.47 L363.38 190.08 L363.59 190.68 L363.81 191.28 L364.03 191.88 L364.25 192.49 L364.48 193.09 L364.7 193.69 L364.93 194.29 L365.17 194.9 L365.4 195.5 L365.51 196.74 L366.31 197.69 L367.11 198.6 L367.91 199.48 L368.72 200.32 L369.52 201.14 L370.32 201.93 L371.12 202.7 L371.92 203.45 L372.72 204.18 L373.52 204.89 L374.32 205.59 L375.12 206.26 L375.93 206.92 L376.73 207.57 L377.53 208.19 L378.33 208.8 L379.13 209.4 L379.93 209.98 L380.73 210.55 L381.53 211.1 L382.33 211.65 L383.14 212.18 L383.94 212.7 L384.74 213.21 L385.54 213.72 L386.34 214.21 L387.14 214.69 L387.94 215.17 L388.74 215.64 L389.54 216.1 L390.35 216.55 L391.15 216.99 L391.95 217.43 L392.75 217.86 L393.55 218.29 L394.35 218.71 L395.15 219.12 L395.95 219.53 L396.76 219.93 L397.56 220.32 L398.36 220.71 L399.16 221.09 L399.96 221.46 L400.76 221.83 L401.56 222.19 L402.36 222.55 L403.16 222.91 L403.97 223.26 L404.77 223.61 L405.57 223.96 L406.37 224.3 L407.17 224.64 L407.97 224.98 L408.77 225.31 L409.57 225.64 L410.37 225.96 L411.18 226.28 L411.98 226.6 L412.78 226.92 L413.58 227.23 L414.38 227.55 L415.18 227.86 L415.98 228.18 L416.78 228.49 L417.58 228.81 L418.39 229.12 L419.19 229.44 L419.99 229.75 L420.79 230.06 L421.59 230.37 L422.39 230.68 L423.19 230.99 L423.99 231.29 L424.79 231.6 L425.6 231.91 L426.4 232.21 L427.2 232.52 L428 232.82 L428.8 233.13 L429.6 233.43 L430.4 233.73 L431.2 234.04 L432 234.34 L432.81 234.64 L433.61 234.94 L434.41 235.24 L435.21 235.54 L436.01 235.84 L436.81 236.14 L437.61 236.44 L438.41 236.74 L439.21 237.04 L440.02 237.34 L440.82 237.64 L441.62 237.94 L442.42 238.23 L443.22 238.53 L444.02 238.83 L444.82 239.12 L445.62 239.42 L446.42 239.72 L447.23 240.02 L448.03 240.31 L448.83 240.61 L449.63 240.9 L450.43 241.2 L451.23 241.49 L452.03 241.79 L452.83 242.09 L453.63 242.38 L454.44 242.68 L455.24 242.97 L456.04 243.26 L456.84 243.56 L457.64 243.85 L458.44 244.14 L459.24 244.44 L460.04 244.73 L460.84 245.02 L461.65 245.32 L462.45 245.61 L463.25 245.9 L464.05 246.19 L464.85 246.48 L465.65 246.77 L466.45 247.06 L467.25 247.35 L468.06 247.64 L468.86 247.93 L469.66 248.22 L470 248.2 L470.8 248.48 L471.61 248.76 L472.41 249.03 L473.21 249.31 L474.01 249.59 L474.82 249.87 L475.62 250.14 L476.42 250.42 L477.23 250.7 L478.03 250.98 L478.83 251.26 L479.64 251.53 L480.44 251.81 L481.24 252.09 L482.04 252.37 L482.85 252.65 L483.65 252.93 L484.45 253.2 L485.26 253.48 L486.06 253.76 L486.86 254.04 L487.66 254.32 L488.47 254.6 L489.27 254.88 L490.07 255.16 L490.88 255.44 L491.68 255.71 L492.48 255.99 L493.28 256.27 L494.09 256.55 L494.89 256.83 L495.69 257.11 L496.5 257.39 L497.3 257.67 L498.1 257.95 L498.91 258.23 L499.71 258.51 L500.51 258.79 L501.31 259.07 L502.12 259.35 L502.92 259.64 L503.72 259.92 L504.53 260.2 L505.33 260.48 L506.13 260.76 L506.93 261.04 L507.74 261.32 L508.54 261.6 L509.34 261.87 L510.15 262.15 L510.95 262.43 L511.75 262.7 L512.55 262.97 L513.36 263.25 L514.16 263.52 L514.96 263.79 L515.77 264.06 L516.57 264.33 L517.37 264.61 L518.18 264.88 L518.98 265.14 L519.78 265.41 L520.58 265.68 L521.39 265.95 L522.19 266.22 L522.99 266.49 L523.8 266.76 L524.6 267.03 L525.4 267.29 L526.2 267.56 L527.01 267.83 L527.81 268.1 L528.61 268.37 L529.42 268.64 L530.22 268.91 L531.02 269.18 L531.82 269.45 L532.63 269.72 L533.43 269.99 L534.23 270.26 L535.04 270.54 L535.84 270.81 L536.64 271.08 L537.45 271.36 L538.25 271.63 L539.05 271.91 L539.85 272.19 L540.66 272.46 L541.46 272.74 L542.26 273.02 L543.07 273.29 L543.87 273.57 L544.67 273.85 L545.47 274.12 L546.28 274.4 L547.08 274.68 L547.88 274.95 L548.69 275.23 L549.49 275.51 L550.29 275.79 L551.09 276.07 L551.9 276.35 L552.7 276.63 L553.5 276.92 L554.31 277.2 L555.11 277.49 L555.91 277.78 L556.72 278.07 L557.52 278.36 L558.32 278.65 L559.12 278.95 L559.93 279.25 L560.73 279.55 L561.53 279.85 L562.34 280.16 L563.14 280.46 L563.94 280.77 L564.74 281.09 L565.55 281.4 L566.35 281.72 L567.15 282.04 L567.96 282.36 L568.76 282.68 L569.56 283.01 L570.36 283.34 L571.17 283.67 L571.97 284.01 L572.77 284.35 L573.58 284.69 L574.38 285.03 L575.18 285.39 L575.99 285.74 L576.79 286.11 L577.59 286.47 L578.39 286.85 L579.2 287.22 L580 287.6 L581.21 288.2 L582.37 288.81 L583.48 289.41 L584.55 290.01 L585.62 290.61 L586.59 291.22 L587.35 291.82 L588.02 292.42 L588.61 293.02 L589.13 293.63 L589.57 294.23 L589.93 294.83 L590.25 295.43 L590.54 296.04 L590.8 296.64 L591.03 297.24 L591.24 297.84 L591.43 298.45 L591.59 299.05 L591.73 299.65 L591.87 300.25 L592.01 300.86 L592.13 301.46 L592.24 302.06 L592.35 302.67 L592.44 303.27 L592.51 303.87 L592.57 304.47 L592.6 305.08 L592.63 305.68 L592.66 306.28 L592.69 306.88 L592.71 307.49 L592.73 308.09 L592.75 308.69 L592.77 309.29 L592.78 309.9 L592.79 310.5 L592.8 311.1 L592.8 311.7 L592.8 312.31 L592.8 312.91 L592.8 313.51 L592.8 314.11 L592.8 314.72 L592.8 315.32 L592.8 315.92 L592.8 316.53 L592.8 317.13 L592.8 317.73 L592.8 318.33 L592.8 318.94 L592.8 319.54 L592.8 320.14 L592.8 320.74 L592.8 321.35 L592.8 321.95 L592.8 322.55 L592.8 323.15 L592.8 323.76 L592.8 324.36 L592.8 324.96 L592.8 325.56 L592.8 326.17 L592.8 326.77 L592.8 327.37 L592.8 327.97 L592.8 328.58 L592.8 329.18 L592.8 329.78 L592.8 330.39 L592.8 330.99 L592.8 331.59 L592.8 332.19 L592.8 332.8 L592.8 333.4 L592.8 334 L592.8 334.6 L592.8 335.21 L592.8 335.81 L592.8 336.41 L592.8 337.01 L592.8 337.62 L592.8 338.22 L592.8 338.82 L592.8 339.42 L592.8 340.03 L592.8 340.63 L592.8 341.23 L592.8 341.83 L592.8 342.44 L592.8 343.04 L592.8 343.64 L592.8 344.25 L592.8 344.85 L592.8 345.45 L592.8 346.05 L592.8 346.66 L592.8 347.26 L592.8 347.86 L592.8 348.46 L592.8 349.07 L592.8 349.67 L592.8 350.27 L592.8 350.87 L592.8 351.48 L592.8 352.08 L592.8 352.68 L592.8 353.28 L592.8 353.89 L592.8 354.49 L592.8 355.09 L592.8 355.69 L592.8 356.3 L592.8 356.9 L592.8 357.5 L592.8 358.11 L592.8 358.71 L592.8 359.31 L592.8 359.91 L592.8 360.52 L592.8 361.12 L592.8 361.72 L592.8 362.32 L592.8 362.93 L592.8 363.53 L592.8 364.13 L592.8 364.73 L592.8 365.34 L592.8 365.94 L592.8 366.54 L592.8 367.14 L592.8 367.75 L592.8 368.35 L592.8 368.95 L592.8 369.55 L592.8 370.16 L592.8 370.76 L592.8 371.36 L592.8 371.97 L592.8 372.57 L592.8 373.17 L592.8 373.77 L592.8 374.38 L592.8 374.98 L592.8 375.58 L592.8 376.18 L592.8 376.79 L592.8 377.39 L592.8 377.99 L592.8 378.59 L592.8 379.2 L592.8 379.8 L592.8 380.4 L592.8 381 L592.8 381.61 L592.8 382.21 L592.8 382.81 L592.8 383.41 L592.8 384.02 L592.8 384.62 L592.8 385.22 L592.8 385.83 L592.8 386.43 L592.8 387.03 L592.8 387.63 L592.8 388.24 L592.8 388.84 L592.8 389.44 L592.8 390.04 L592.8 390.65 L592.8 391.25 L592.8 391.85 L592.8 392.45 L592.8 393.06 L592.8 393.66 L592.8 394.26 L592.8 394.86 L592.8 395.47 L592.8 396.07 L592.8 396.67 L592.8 397.27 L592.8 397.88 L592.8 398.48 L592.8 399.08 L592.8 399.69 L592.8 400.29 L592.8 400.89 L592.8 401.49 L592.8 402.1 L592.8 402.7 L592.8 403.3 L592.8 403.9 L592.8 404.51 L592.8 405.11 L592.8 405.71 L592.8 406.31 L592.8 406.92 L592.8 407.52 L592.8 408.12 L592.8 408.72 L592.8 409.33 L592.8 409.93 L592.8 410.53 L592.8 411.13 L592.8 411.74 L592.8 412.34 L592.8 412.94 L592.8 413.55 L592.8 414.15 L592.8 414.75 L592.8 415.35 L592.8 415.96 L592.8 416.56 L592.82 417.16 L592.86 417.76 L592.94 418.37 L593.03 418.97 L593.15 419.57 L593.34 420.17 L593.75 420.78 L594.29 421.38 L594.89 421.98 L595.65 422.58 L596.52 423.19 L597.46 423.79 L598.45 424.39 L599.54 424.99 L600.73 425.6 L602 426.2 L603 426.57 L604.01 426.94 L605.01 427.28 L606.01 427.6 L607.02 427.91 L608.02 428.2 L609.02 428.49 L610.03 428.77 L611.03 429.03 L612.03 429.29 L613.04 429.55 L614.04 429.79 L615.04 430.02 L616.05 430.24 L617.05 430.46 L618.05 430.67 L619.06 430.87 L620.06 431.07 L621.06 431.25 L622.07 431.44 L623.07 431.62 L624.07 431.79 L625.08 431.96 L626.08 432.12 L627.08 432.27 L628.09 432.41 L629.09 432.54 L630.09 432.66 L631.1 432.77 L632.1 432.89 L633.1 433.01 L634.11 433.14 L635.11 433.29 L636.11 433.47 L637.12 433.67 L638.12 434 L639.12 434.36 L640.13 434.62 L641.13 434.81 L642.13 434.97 L643.14 435.11 L644.14 435.24 L645.14 435.35 L646.15 435.47 L647.15 435.57 L648.15 435.68 L649.16 435.8 L650.16 435.92 L651.16 436.05 L652.17 436.17 L653.17 436.3 L654.17 436.43 L655.18 436.55 L656.18 436.68 L657.18 436.8 L658.19 436.93 L659.19 437.05 L660.19 437.18 L661.2 437.3 L662.2 437.43 L663.2 437.55 L664.21 437.67 L665.21 437.8 L666.21 437.92 L667.22 438.04 L668.22 438.17 L669.22 438.29 L670.23 438.41 L671.23 438.53 L672.23 438.66 L673.24 438.78 L674.24 438.9 L675.24 439.02 L676.25 439.14 L677.25 439.26 L678.25 439.39 L679.26 439.51 L680.26 439.63 L681.26 439.75 L682.27 439.87 L683.27 439.99 L684.27 440.11 L685.28 440.23 L686.28 440.35 L687.28 440.47 L688.29 440.59 L689.29 440.71 L690.29 440.84 L691.3 440.96 L692.3 441.08 L693.3 441.2 L694.31 441.32 L695.31 441.44 L696.31 441.56 L697.32 441.68 L698.32 441.8 L699.32 441.92 L700.33 442.04 L701.33 442.16 L702.33 442.28 L703.34 442.4 L704.34 442.52 L705.34 442.64 L706.35 442.76 L707.35 442.88 L708.35 443 L709.36 443.12 L710.36 443.24 L711.36 443.36 L712.37 443.48 L713.37 443.6 L714.37 443.72 L715.38 443.84 L716.38 443.96 L717.38 444.08 L718.39 444.19 L719.39 444.31 L720.39 444.43 L721.4 444.55 L722.4 444.67 L723.4 444.79 L724.41 444.91 L725.41 445.03 L726.41 445.15 L727.42 445.26 L728.42 445.38 L729.42 445.5 L730.43 445.62 L731.43 445.74 L732.43 445.85 L733.44 445.97 L734.44 446.09 L735.44 446.21 L736.45 446.33 L737.45 446.44 L738.45 446.56 L739.46 446.68 L740.46 446.8 L741.46 446.91 L742.47 447.03 L743.47 447.15 L744.47 447.27 L745.48 447.38 L746.48 447.5 L747.48 447.62 L748.49 447.73 L749.49 447.85 L750.49 447.97 L751.5 448.08 L752.5 448.2" stroke="#ff00ff" stroke-width="2" stroke-dasharray="4.8 3.85"/>
<path d="M593.2 407.5 L593.2 408.11 L593.2 408.72 L593.2 409.33 L593.2 409.94 L593.2 410.55 L593.2 411.16 L593.2 411.77 L593.2 412.38 L593.2 412.98 L593.2 413.59 L593.2 414.2 L593.2 414.81 L593.2 415.42 L593.2 416.03 L593.2 416.64 L593.2 417.25 L593.2 417.86 L593.2 418.47 L593.2 419.08 L593.2 419.69 L593.2 420.3 L593.2 420.91 L593.2 421.52 L593.2 422.13 L593.2 422.74 L593.2 423.35 L593.2 423.95 L593.2 424.56 L593.2 425.17 L593.2 425.78 L593.2 426.39 L593.2 427 L593.2 427.61 L593.2 428.22 L593.22 428.83 L593.26 429.44 L593.32 430.05 L593.39 430.66 L593.47 431.27 L593.57 431.88 L593.73 432.49 L593.96 433.1 L594.22 433.71 L594.51 434.32 L594.84 434.92 L595.23 435.53 L595.68 436.14 L596.19 436.75 L596.76 437.36 L597.37 437.97 L598.11 438.58 L599.01 439.19 L600 439.8 L601 440.28 L602.01 440.73 L603.01 441.14 L604.01 441.52 L605.02 441.89 L606.02 442.24 L607.02 442.58 L608.03 442.91 L609.03 443.22 L610.03 443.53 L611.04 443.82 L612.04 444.09 L613.04 444.36 L614.05 444.61 L615.05 444.85 L616.05 445.09 L617.06 445.31 L618.06 445.52 L619.06 445.73 L620.07 445.93 L621.07 446.13 L622.07 446.32 L623.08 446.52 L624.08 446.71 L625.08 446.9 L626.09 447.09 L627.09 447.27 L628.09 447.45 L629.1 447.62 L630.1 447.79 L631.1 447.96 L632.11 448.13 L633.11 448.29 L634.11 448.45 L635.12 448.6 L636.12 448.75 L637.12 448.9 L638.12 449.04 L639.13 449.18 L640.13 449.32 L641.13 449.46 L642.14 449.59 L643.14 449.72 L644.14 449.85 L645.15 449.99 L646.15 450.11 L647.15 450.24 L648.16 450.37 L649.16 450.49 L650.16 450.62 L651.17 450.75 L652.17 450.87 L653.17 450.99 L654.18 451.12 L655.18 451.24 L656.18 451.37 L657.19 451.49 L658.19 451.61 L659.19 451.73 L660.2 451.85 L661.2 451.97 L662.2 452.1 L663.21 452.22 L664.21 452.34 L665.21 452.46 L666.22 452.58 L667.22 452.7 L668.22 452.81 L669.23 452.93 L670.23 453.05 L671.23 453.17 L672.24 453.29 L673.24 453.41 L674.24 453.52 L675.25 453.64 L676.25 453.76 L677.25 453.87 L678.26 453.99 L679.26 454.11 L680.26 454.22 L681.27 454.34 L682.27 454.46 L683.27 454.57 L684.28 454.69 L685.28 454.81 L686.28 454.92 L687.29 455.04 L688.29 455.15 L689.29 455.27 L690.3 455.38 L691.3 455.5 L692.3 455.61 L693.31 455.73 L694.31 455.85 L695.31 455.96 L696.32 456.08 L697.32 456.19 L698.32 456.31 L699.33 456.42 L700.33 456.54 L701.33 456.65 L702.34 456.77 L703.34 456.88 L704.34 457 L705.35 457.11 L706.35 457.23 L707.35 457.34 L708.36 457.46 L709.36 457.57 L710.36 457.69 L711.37 457.8 L712.37 457.92 L713.37 458.03 L714.38 458.14 L715.38 458.26 L716.38 458.37 L717.38 458.49 L718.39 458.6 L719.39 458.71 L720.39 458.83 L721.4 458.94 L722.4 459.05 L723.4 459.17 L724.41 459.28 L725.41 459.39 L726.41 459.51 L727.42 459.62 L728.42 459.73 L729.42 459.84 L730.43 459.96 L731.43 460.07 L732.43 460.18 L733.44 460.29 L734.44 460.4 L735.44 460.52 L736.45 460.63 L737.45 460.74 L738.45 460.85 L739.46 460.96 L740.46 461.07 L741.46 461.18 L742.47 461.3 L743.47 461.41 L744.47 461.52 L745.48 461.63 L746.48 461.74 L747.48 461.85 L748.49 461.96 L749.49 462.07 L750.49 462.18 L751.5 462.29 L752.5 462.4" stroke="#00ffff" stroke-width="2" stroke-dasharray="8 2.9 2.2 2.9"/>
</g>
<g fill="none">
<path d="M691 60 H734.5" stroke="#ff0000" stroke-width="4"/>
<path d="M691 75 H724" stroke="#00ff00" stroke-width="2" stroke-dasharray="11.3 10.4"/>
<path d="M691 90 H734.5" stroke="#0000ff" stroke-width="2" stroke-dasharray="1.6 1.6"/>
<path d="M691 105.3 H731" stroke="#ff00ff" stroke-width="2" stroke-dasharray="4.8 3.85"/>
<path d="M691 120.4 H731.6" stroke="#00ffff" stroke-width="2" stroke-dasharray="8 2.9 2.2 2.9"/>
</g>
<g stroke="#000" stroke-width="2" fill="none">
<path d="M113.5 56.85 h3.6 M752.5 56.85 h-3.6"/>
<path d="M113.5 68.2 h3.6 M752.5 68.2 h-3.6"/>
<path d="M113.5 79.55 h3.6 M752.5 79.55 h-3.6"/>
<path d="M113.5 90.9 h3.6 M752.5 90.9 h-3.6"/>
<path d="M113.5 102.25 h7 M752.5 102.25 h-7"/>
<path d="M113.5 113.6 h3.6 M752.5 113.6 h-3.6"/>
<path d="M113.5 124.95 h3.6 M752.5 124.95 h-3.6"/>
<path d="M113.5 136.3 h3.6 M752.5 136.3 h-3.6"/>
<path d="M113.5 147.65 h3.6 M752.5 147.65 h-3.6"/>
<path d="M113.5 159 h7 M752.5 159 h-7"/>
<path d="M113.5 170.35 h3.6 M752.5 170.35 h-3.6"/>
<path d="M113.5 181.7 h3.6 M752.5 181.7 h-3.6"/>
<path d="M113.5 193.05 h3.6 M752.5 193.05 h-3.6"/>
<path d="M113.5 204.4 h3.6 M752.5 204.4 h-3.6"/>
<path d="M113.5 215.75 h7 M752.5 215.75 h-7"/>
<path d="M113.5 227.1 h3.6 M752.5 227.1 h-3.6"/>
<path d="M113.5 238.45 h3.6 M752.5 238.45 h-3.6"/>
<path d="M113.5 249.8 h3.6 M752.5 249.8 h-3.6"/>
<path d="M113.5 261.15 h3.6 M752.5 261.15 h-3.6"/>
<path d="M113.5 272.5 h7 M752.5 272.5 h-7"/>
<path d="M113.5 283.85 h3.6 M752.5 283.85 h-3.6"/>
<path d="M113.5 295.2 h3.6 M752.5 295.2 h-3.6"/>
<path d="M113.5 306.55 h3.6 M752.5 306.55 h-3.6"/>
<path d="M113.5 317.9 h3.6 M752.5 317.9 h-3.6"/>
<path d="M113.5 329.25 h7 M752.5 329.25 h-7"/>
<path d="M113.5 340.6 h3.6 M752.5 340.6 h-3.6"/>
<path d="M113.5 351.95 h3.6 M752.5 351.95 h-3.6"/>
<path d="M113.5 363.3 h3.6 M752.5 363.3 h-3.6"/>
<path d="M113.5 374.65 h3.6 M752.5 374.65 h-3.6"/>
<path d="M113.5 386 h7 M752.5 386 h-7"/>
<path d="M113.5 397.35 h3.6 M752.5 397.35 h-3.6"/>
<path d="M113.5 408.7 h3.6 M752.5 408.7 h-3.6"/>
<path d="M113.5 420.05 h3.6 M752.5 420.05 h-3.6"/>
<path d="M113.5 431.4 h3.6 M752.5 431.4 h-3.6"/>
<path d="M113.5 442.75 h7 M752.5 442.75 h-7"/>
<path d="M113.5 454.1 h3.6 M752.5 454.1 h-3.6"/>
<path d="M113.5 465.45 h3.6 M752.5 465.45 h-3.6"/>
<path d="M113.5 476.8 h3.6 M752.5 476.8 h-3.6"/>
<path d="M113.5 488.15 h3.6 M752.5 488.15 h-3.6"/>
<path d="M326.5 499.5 v-7"/>
<path d="M331.6 499.5 v-7"/>
<path d="M357.4 499.5 v-7"/>
<path d="M539.5 499.5 v-7"/>
<path d="M592.6 499.5 v-7"/>
<path d="M326.5 45.5 v6.5"/>
<path d="M331.6 45.5 v6.5"/>
<path d="M357.4 45.5 v6.5"/>
<path d="M539.5 45.5 v6.5"/>
<path d="M592.6 45.5 v6.5"/>
</g>
<rect x="113.5" y="45.5" width="639" height="454" fill="none" stroke="#000" stroke-width="2.4"/>
<g font-family="'Liberation Sans', sans-serif" fill="#000">
<path d="M64.86 40.83 L64.86 52.3 L66.9 52.3 L66.9 36.2 L65.5 36.2 C64.86 38.4 64.03 38.99 61.08 39.4 L61.08 40.83 Z"/>
<text x="71.48" y="52.3" font-size="23">0</text>
<path d="M89.1 35.73 L89.1 44.7 L90.7 44.7 L90.7 32.1 L89.6 32.1 C89.1 33.82 88.45 34.29 86.15 34.61 L86.15 35.73 Z"/>
<text x="94.29" y="44.7" font-size="18">5</text>
<path d="M64.86 97.58 L64.86 109.05 L66.9 109.05 L66.9 92.95 L65.5 92.95 C64.86 95.15 64.03 95.74 61.08 96.15 L61.08 97.58 Z"/>
<text x="71.48" y="109.05" font-size="23">0</text>
<path d="M89.1 92.48 L89.1 101.45 L90.7 101.45 L90.7 88.85 L89.6 88.85 C89.1 90.57 88.45 91.04 86.15 91.36 L86.15 92.48 Z"/>
<text x="94.29" y="101.45" font-size="18">0</text>
<path d="M74.87 154.33 L74.87 165.8 L76.91 165.8 L76.91 149.7 L75.51 149.7 C74.87 151.9 74.04 152.49 71.1 152.9 L71.1 154.33 Z"/>
<text x="81.5" y="165.8" font-size="23">0</text>
<text x="94.29" y="158.2" font-size="18">5</text>
<path d="M97.67 211.08 L97.67 222.55 L99.72 222.55 L99.72 206.45 L98.32 206.45 C97.67 208.65 96.84 209.24 93.9 209.65 L93.9 211.08 Z"/>
<path d="M68.87 267.83 L68.87 279.3 L70.92 279.3 L70.92 263.2 L69.52 263.2 C68.87 265.4 68.05 265.99 65.1 266.4 L65.1 267.83 Z"/>
<text x="75.5" y="279.3" font-size="23">0</text>
<text x="88.29" y="271.7" font-size="18">-</text>
<text x="94.29" y="271.7" font-size="18">5</text>
<path d="M58.86 324.58 L58.86 336.05 L60.91 336.05 L60.91 319.95 L59.51 319.95 C58.86 322.15 58.03 322.74 55.09 323.15 L55.09 324.58 Z"/>
<text x="65.49" y="336.05" font-size="23">0</text>
<text x="78.28" y="328.45" font-size="18">-</text>
<path d="M89.1 319.48 L89.1 328.45 L90.7 328.45 L90.7 315.85 L89.6 315.85 C89.1 317.57 88.45 318.04 86.15 318.36 L86.15 319.48 Z"/>
<text x="94.29" y="328.45" font-size="18">0</text>
<path d="M58.86 381.33 L58.86 392.8 L60.91 392.8 L60.91 376.7 L59.51 376.7 C58.86 378.9 58.03 379.49 55.09 379.9 L55.09 381.33 Z"/>
<text x="65.49" y="392.8" font-size="23">0</text>
<text x="78.28" y="385.2" font-size="18">-</text>
<path d="M89.1 376.23 L89.1 385.2 L90.7 385.2 L90.7 372.6 L89.6 372.6 C89.1 374.32 88.45 374.79 86.15 375.11 L86.15 376.23 Z"/>
<text x="94.29" y="385.2" font-size="18">5</text>
<path d="M58.86 438.08 L58.86 449.55 L60.91 449.55 L60.91 433.45 L59.51 433.45 C58.86 435.65 58.03 436.24 55.09 436.65 L55.09 438.08 Z"/>
<text x="65.49" y="449.55" font-size="23">0</text>
<text x="78.28" y="441.95" font-size="18">-</text>
<text x="84.28" y="441.95" font-size="18">2</text>
<text x="94.29" y="441.95" font-size="18">0</text>
<path d="M58.86 494.83 L58.86 506.3 L60.91 506.3 L60.91 490.2 L59.51 490.2 C58.86 492.4 58.03 492.99 55.09 493.4 L55.09 494.83 Z"/>
<text x="65.49" y="506.3" font-size="23">0</text>
<text x="78.28" y="498.7" font-size="18">-</text>
<text x="84.28" y="498.7" font-size="18">2</text>
<text x="94.29" y="498.7" font-size="18">5</text>
<text x="93.82" y="520" font-size="23">0</text>
<text x="106.61" y="520" font-size="23">.</text>
<text x="113" y="520" font-size="23">0</text>
<path d="M131.95 508.53 L131.95 520 L134 520 L134 503.9 L132.6 503.9 C131.95 506.1 131.13 506.69 128.18 507.1 L128.18 508.53 Z"/>
<text x="313.21" y="520" font-size="23">0</text>
<text x="326.01" y="520" font-size="23">.</text>
<path d="M338.56 508.53 L338.56 520 L340.61 520 L340.61 503.9 L339.2 503.9 C338.56 506.1 337.73 506.69 334.79 507.1 L334.79 508.53 Z"/>
<path d="M542.77 508.53 L542.77 520 L544.81 520 L544.81 503.9 L543.41 503.9 C542.77 506.1 541.94 506.69 539 507.1 L539 508.53 Z"/>
<path d="M748.57 508.53 L748.57 520 L750.62 520 L750.62 503.9 L749.22 503.9 C748.57 506.1 747.74 506.69 744.8 507.1 L744.8 508.53 Z"/>
<text x="755.2" y="520" font-size="23">0</text>
<text transform="translate(21.1 272.6) rotate(-90)" font-size="23" text-anchor="middle">lifetime (s)</text>
<text x="433" y="558.4" font-size="23" text-anchor="middle"><tspan font-family="'Liberation Serif', serif">δ</tspan>m (GeV)</text>
<text x="681.8" y="64.6" font-size="19.3" text-anchor="end">total</text>
<text x="681.8" y="79.85" font-size="19.3" text-anchor="end">electron</text>
<text x="681.8" y="95.1" font-size="19.3" text-anchor="end">muon</text>
<text x="681.8" y="110.35" font-size="19.3" text-anchor="end">pion</text>
<text x="681.8" y="125.6" font-size="19.3" text-anchor="end">tau</text>
</g>
<g fill="none" stroke="#000" stroke-linecap="butt" stroke-linejoin="round">
<path d="M327.1 22.2 V33.5" stroke-width="1.8"/>
<path d="M326.3 33 L328 33 C327.7 34.5 328.3 36.4 328.1 37.4 C327.8 38.5 326.2 38.6 325.8 37.6 C325.4 36.6 326.4 35 326.3 33 Z" fill="#000" stroke="none"/>
<path d="M327.6 30.2 C327.9 33.9 331.9 34 333.7 30.6" stroke-width="1.5"/>
<path d="M334.4 22.2 V31.2 C334.4 33.7 336.7 33.8 337.8 31.3" stroke-width="1.7"/>
<path d="M351.2 25.4 C351.8 23.3 352.9 22.9 354.2 22.9 H362.9" stroke-width="1.6"/>
<path d="M355.4 23.2 C355.3 27 354.9 29.5 354 31.8" stroke-width="1.3"/>
<circle cx="353.6" cy="32.4" r="1.4" fill="#000" stroke="none"/>
<path d="M358.7 23.2 V31 C358.7 33.7 361.1 34 362.6 30.4" stroke-width="1.7"/>
<path d="M587.9 26 C588.6 23.4 589.8 22.9 591.2 22.9 H597" stroke-width="1.6"/>
<path d="M592.4 23.2 C592.2 26 591.8 29 592 31 C592.2 33.7 594.9 34.1 596.5 30.4" stroke-width="1.9"/>
</g>
</svg>
</body></html>
